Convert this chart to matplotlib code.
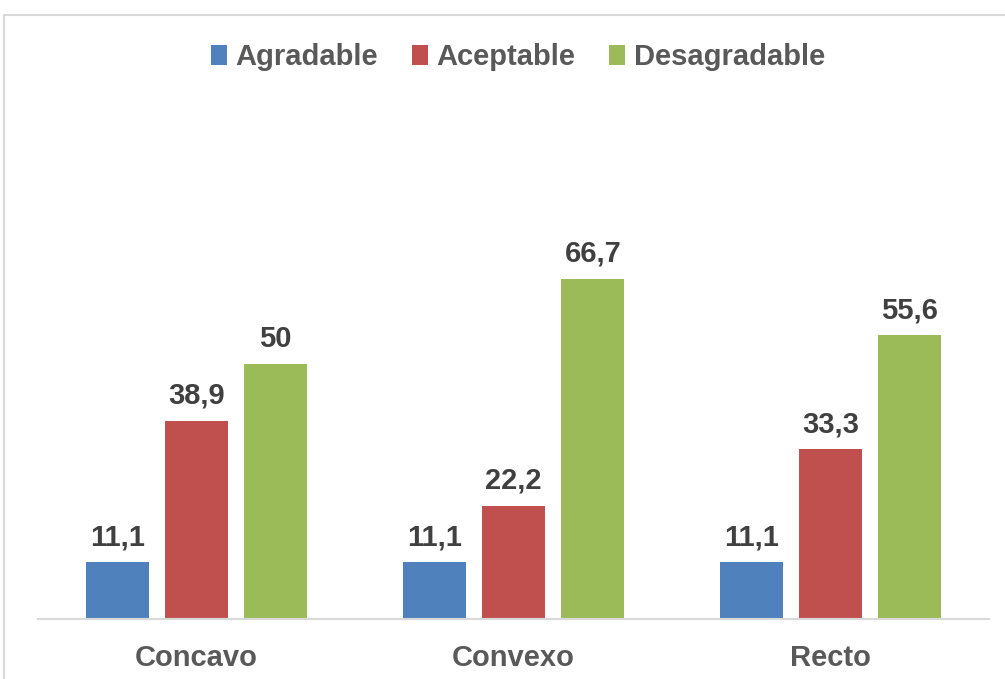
import numpy as np
import matplotlib
matplotlib.use("Agg")
import matplotlib.pyplot as plt
from matplotlib.patches import Rectangle

plt.rcParams["font.family"] = ["Liberation Sans", "DejaVu Sans"]
plt.rcParams["font.weight"] = "bold"

categories = ["Concavo", "Convexo", "Recto"]
series = ["Agradable", "Aceptable", "Desagradable"]
agradable = [11.1, 11.1, 11.1]
aceptable = [38.9, 22.2, 33.3]
desagradable = [50, 66.7, 55.6]
labels = {
    "Agradable": ["11,1", "11,1", "11,1"],
    "Aceptable": ["38,9", "22,2", "33,3"],
    "Desagradable": ["50", "66,7", "55,6"],
}
colors = ["#4F81BD", "#C0504D", "#9BBB59"]

W, H = 1005, 679
fig = plt.figure(figsize=(W / 100, H / 100), dpi=100)
ax = fig.add_axes([38 / W, (H - 619) / H, (989 - 38) / W, (619 - 211) / H])

x = np.arange(len(categories))
width = 0.2
for i, (name, vals) in enumerate(zip(series, [agradable, aceptable, desagradable])):
    bars = ax.bar(x + (i - 1) * 0.25, vals, width, color=colors[i], label=name)
    ax.bar_label(bars, labels=labels[name], padding=8, fontsize=21,
                 fontweight="bold", color="#404040")

ax.set_xlim(-0.5, 2.5)
ax.set_ylim(0, 80)
ax.set_yticks([])
ax.set_xticks(x)
ax.set_xticklabels(categories, fontsize=21, fontweight="bold", color="#595959")
ax.tick_params(axis="x", length=0, pad=18)
for s in ["top", "right", "left"]:
    ax.spines[s].set_visible(False)
ax.spines["bottom"].set_color("#D9D9D9")
ax.spines["bottom"].set_linewidth(1.5)

leg = fig.legend(loc="center", bbox_to_anchor=(518 / W, 1 - 57 / H), ncol=3,
                 frameon=False, fontsize=21, handlelength=0.55, handleheight=0.7,
                 handletextpad=0.3, columnspacing=1.15)
for t in leg.get_texts():
    t.set_color("#595959")
    t.set_fontweight("bold")

# outer chart frame (cropped at right and bottom)
fig.patches.append(Rectangle((4 / W, -0.05), 1.1, 1 - 15 / H + 0.05,
                             transform=fig.transFigure, fill=False,
                             edgecolor="#D9D9D9", linewidth=1.5))

plt.savefig("out.png", dpi=100)
